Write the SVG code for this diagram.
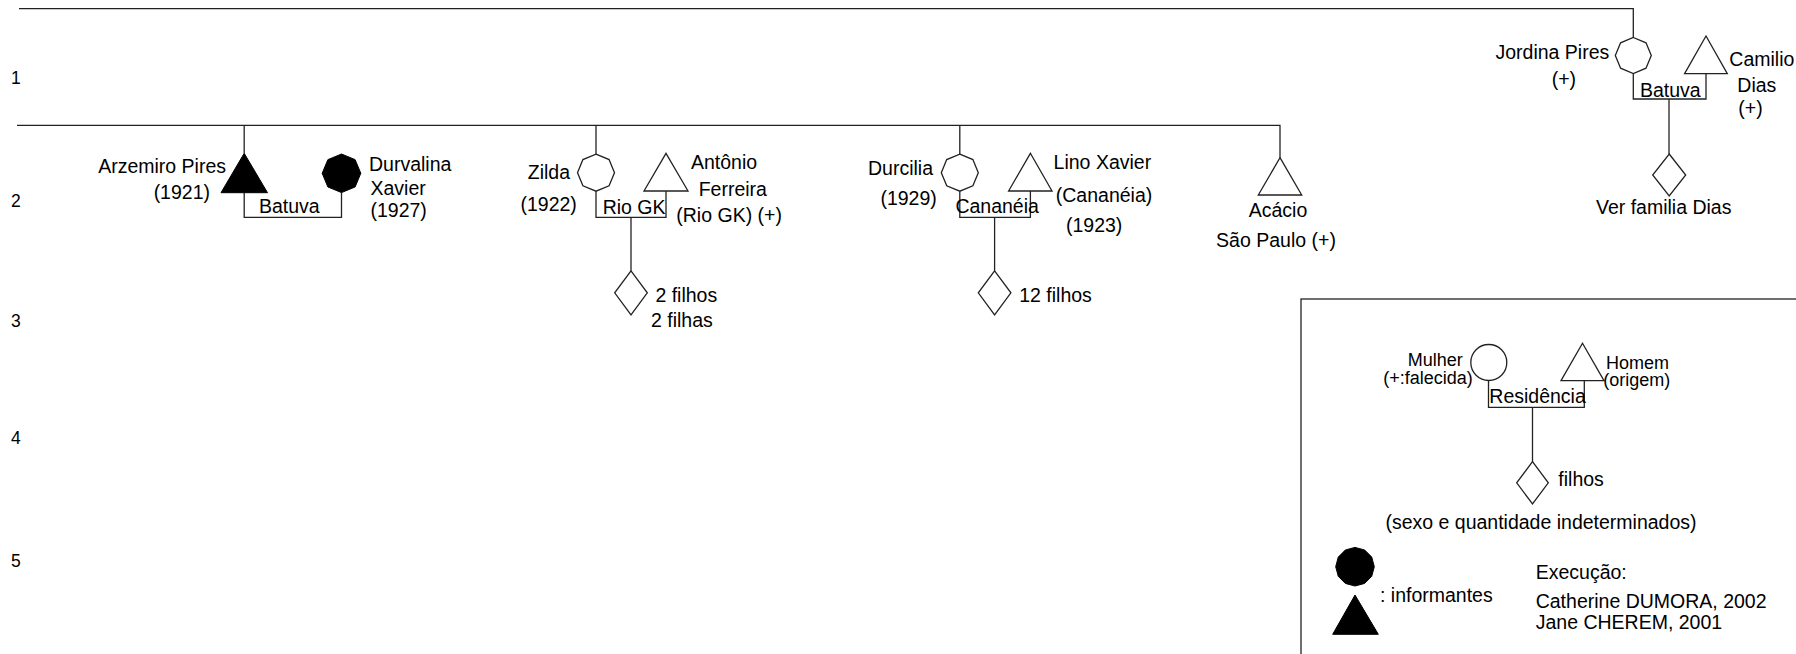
<svg xmlns="http://www.w3.org/2000/svg" width="1796" height="654" viewBox="0 0 1796 654">
<style>
text{font-family:"Liberation Sans",Arial,sans-serif;font-size:19.5px;fill:#000}
.num{font-size:17.5px}
.sm{font-size:18px}
.e{text-anchor:end}
.m{text-anchor:middle}
.ln{fill:none;stroke:#222;stroke-width:1.3}
.sh{fill:#fff;stroke:#222;stroke-width:1.3}
.fi{fill:#000;stroke:#000;stroke-width:1}
</style>
<defs>
<polygon id="oct" points="0,-18.5 13.08,-13.08 18.5,0 13.08,13.08 0,18.5 -13.08,13.08 -18.5,0 -13.08,-13.08"/>
<polygon id="dia" points="0,-22 16.3,0 0,22 -16.3,0"/>
</defs>
<rect width="1796" height="654" fill="#fff"/>
<g id="generations">
<text class="num" x="11" y="84.3">1</text>
<text class="num" x="11" y="207">2</text>
<text class="num" x="11" y="327">3</text>
<text class="num" x="11" y="444">4</text>
<text class="num" x="11" y="567">5</text>
</g>
<g id="connectors">
<path class="ln" d="M19,8.7 H1633.3 V37"/>
<path class="ln" d="M17,125.3 H1280 V157.7"/>
<path class="ln" d="M244.2,125.3 V153.3"/>
<path class="ln" d="M596,125.3 V154.2"/>
<path class="ln" d="M959.8,125.3 V154.2"/>
<path class="ln" d="M244.2,192.7 V217.3 H341.5 V192.6"/>
<path class="ln" d="M596,191.2 V217.3 H666 V191"/>
<path class="ln" d="M631,217.3 V270.8"/>
<path class="ln" d="M959.8,191.2 V217.3 H1030.4 V191"/>
<path class="ln" d="M994.6,217.3 V270.8"/>
<path class="ln" d="M1633.3,73.5 V99 H1706 V73.7"/>
<path class="ln" d="M1669,99 V154"/>
<path class="ln" d="M1488.5,380.5 V407.3 H1584.3 V380.7"/>
<path class="ln" d="M1532.5,407.3 V461.7"/>
</g>
<g id="arzemiro">
<polygon class="fi" points="244.2,153.3 267.5,192.7 221,192.7"/>
<text class="e" x="226" y="173">Arzemiro Pires</text>
<text class="e" x="210" y="199">(1921)</text>
</g>
<g id="durvalina">
<polygon class="fi" points="341.5,154 355.15,159.65 360.8,173.3 355.15,186.95 341.5,192.6 327.85,186.95 322.2,173.3 327.85,159.65"/>
<text x="369" y="171">Durvalina</text>
<text x="370.5" y="195">Xavier</text>
<text x="370.5" y="217">(1927)</text>
</g>
<g id="couple-batuva">
<text x="259" y="213">Batuva</text>
</g>
<g id="zilda">
<use href="#oct" class="sh" x="596" y="172.7"/>
<text class="e" x="570" y="179">Zilda</text>
<text x="520.5" y="210.7">(1922)</text>
</g>
<g id="antonio">
<polygon class="sh" points="666,153.3 688,191 644,191"/>
<text x="691" y="169.3">Antônio</text>
<text x="698.7" y="196">Ferreira</text>
<text x="676.3" y="221.7">(Rio GK) (+)</text>
</g>
<g id="couple-riogk">
<text x="602.7" y="214.3">Rio GK</text>
</g>
<g id="filhos-zilda">
<use href="#dia" class="sh" x="631" y="292.8"/>
<text x="655.4" y="301.7">2 filhos</text>
<text x="651" y="327.3">2 filhas</text>
</g>
<g id="durcilia">
<use href="#oct" class="sh" x="959.8" y="172.7"/>
<text class="e" x="933" y="175">Durcilia</text>
<text x="880.4" y="205">(1929)</text>
</g>
<g id="lino">
<polygon class="sh" points="1030.4,153.3 1052,191 1008.6,191"/>
<text x="1053.6" y="169.3">Lino Xavier</text>
<text x="1055.8" y="201.7">(Cananéia)</text>
<text x="1066" y="231.7">(1923)</text>
</g>
<g id="couple-cananeia">
<text x="955.4" y="212.7">Cananéia</text>
</g>
<g id="filhos-durcilia">
<use href="#dia" class="sh" x="994.6" y="292.8"/>
<text x="1019.2" y="301.7">12 filhos</text>
</g>
<g id="acacio">
<polygon class="sh" points="1280,157.7 1301.7,195 1258.3,195"/>
<text class="m" x="1278" y="217.3">Acácio</text>
<text class="m" x="1276" y="247.3">São Paulo (+)</text>
</g>
<g id="jordina">
<polygon class="sh" points="1633.3,37.5 1646,42.8 1651.3,55.5 1646,68.2 1633.3,73.5 1620.6,68.2 1615.3,55.5 1620.6,42.8"/>
<text class="e" x="1609.3" y="59.3">Jordina Pires</text>
<text x="1551.7" y="86">(+)</text>
</g>
<g id="camilio">
<polygon class="sh" points="1706,36 1727.3,73.7 1684.6,73.7"/>
<text x="1729.3" y="66">Camilio</text>
<text x="1737.3" y="92">Dias</text>
<text x="1738.3" y="115">(+)</text>
</g>
<g id="couple-batuva2">
<text x="1640" y="96.7">Batuva</text>
</g>
<g id="familia-dias">
<polygon class="sh" points="1669.2,154 1685.7,175 1669.2,196 1652.7,175"/>
<text class="m" x="1663.7" y="214.3">Ver familia Dias</text>
</g>
<g id="legend">
<rect class="ln" x="1301" y="299" width="520" height="400"/>
<circle class="sh" cx="1488.8" cy="362.5" r="18"/>
<text class="e sm" x="1462.7" y="365.5">Mulher</text>
<text class="e sm" x="1472.7" y="384">(+:falecida)</text>
<polygon class="sh" points="1582.5,343.3 1604,380.7 1561,380.7"/>
<text class="sm" x="1606" y="369">Homem</text>
<text class="sm" x="1603.3" y="386">(origem)</text>
<text x="1489.3" y="402.7">Residência</text>
<polygon class="sh" points="1532.5,461.7 1548.3,482.8 1532.5,504 1516.7,482.8"/>
<text x="1558.3" y="486">filhos</text>
<text class="m" x="1541" y="529">(sexo e quantidade indeterminados)</text>
<polygon class="fi" points="1355,547.4 1364.65,549.99 1371.71,557.05 1374.3,566.7 1371.71,576.35 1364.65,583.41 1355,586 1345.35,583.41 1338.29,576.35 1335.7,566.7 1338.29,557.05 1345.35,549.99"/>
<polygon class="fi" points="1355,595 1378.3,634.3 1332.7,634.3"/>
<text x="1380" y="601.7">: informantes</text>
<text x="1535.7" y="579">Execução:</text>
<text x="1535.7" y="607.5">Catherine DUMORA, 2002</text>
<text x="1535.7" y="628.5">Jane CHEREM, 2001</text>
</g>
</svg>
